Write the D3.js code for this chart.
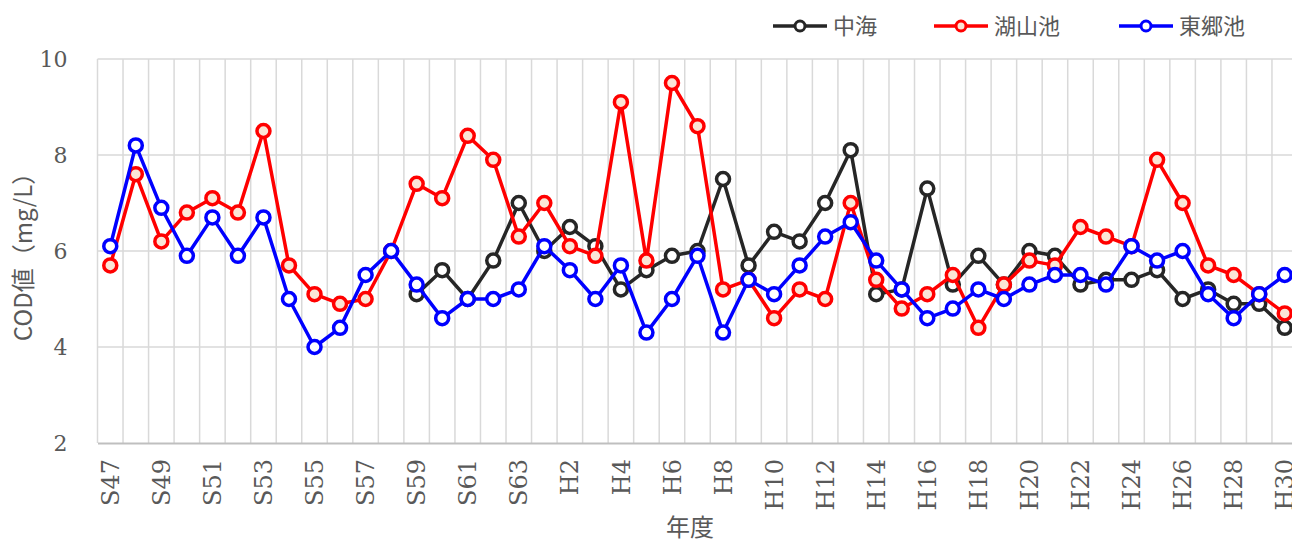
<!DOCTYPE html>
<html>
<head>
<meta charset="utf-8">
<script src="https://cdn.jsdelivr.net/npm/d3@7"></script>
<style>
  body { margin: 0; background: #fff; }
  svg { display: block; }
</style>
</head>
<body>
<svg id="chart" width="1292" height="542"></svg>
<script>
const years = [
  "S47", "S48", "S49", "S50", "S51", "S52", "S53", "S54", "S55", "S56", "S57", "S58",
  "S59", "S60", "S61", "S62", "S63",
  "H1", "H2", "H3", "H4", "H5", "H6", "H7", "H8", "H9", "H10", "H11", "H12", "H13", "H14",
  "H15", "H16", "H17", "H18", "H19", "H20", "H21", "H22", "H23", "H24", "H25", "H26",
  "H27", "H28", "H29", "H30"
];

// 中海 (no data before S59)
const nakaumi = [
  null, null, null, null, null, null, null, null, null, null, null, null,
  5.1, 5.6, 5.0, 5.8, 7.0,
  6.0, 6.5, 6.1, 5.2, 5.6, 5.9, 6.0, 7.5, 5.7, 6.4, 6.2, 7.0, 8.1, 5.1,
  5.2, 7.3, 5.3, 5.9, 5.3, 6.0, 5.9, 5.3, 5.4, 5.4, 5.6, 5.0,
  5.2, 4.9, 4.9, 4.4
];

// 湖山池
const koyamaike = [
  5.7, 7.6, 6.2, 6.8, 7.1, 6.8, 8.5, 5.7, 5.1, 4.9, 5.0, 6.0,
  7.4, 7.1, 8.4, 7.9, 6.3,
  7.0, 6.1, 5.9, 9.1, 5.8, 9.5, 8.6, 5.2, 5.4, 4.6, 5.2, 5.0, 7.0, 5.4,
  4.8, 5.1, 5.5, 4.4, 5.3, 5.8, 5.7, 6.5, 6.3, 6.1, 7.9, 7.0,
  5.7, 5.5, 5.1, 4.7
];

// 東郷池
const togoike = [
  6.1, 8.2, 6.9, 5.9, 6.7, 5.9, 6.7, 5.0, 4.0, 4.4, 5.5, 6.0,
  5.3, 4.6, 5.0, 5.0, 5.2,
  6.1, 5.6, 5.0, 5.7, 4.3, 5.0, 5.9, 4.3, 5.4, 5.1, 5.7, 6.3, 6.6, 5.8,
  5.2, 4.6, 4.8, 5.2, 5.0, 5.3, 5.5, 5.5, 5.3, 6.1, 5.8, 6.0,
  5.1, 4.6, 5.1, 5.5
];

const seriesNames = ["中海", "湖山池", "東郷池"];
const yTicks = [2, 4, 6, 8, 10];

const series = [
  { name: seriesNames[0], values: nakaumi, stroke: "#262626", fill: "#ffffff" },
  { name: seriesNames[1], values: koyamaike, stroke: "#ff0000", fill: "#fbe5d6" },
  { name: seriesNames[2], values: togoike, stroke: "#0000ff", fill: "#ffffff" }
];

const plot = { left: 97.5, right: 1297.5, top: 59, bottom: 443 };
const textColor = "#595959";
const gridColor = "#d9d9d9";
const serif = "'Century Schoolbook', 'DejaVu Serif', 'Liberation Serif', serif";
const sans = "'Noto Sans CJK JP', 'Noto Sans', sans-serif";

const svg = d3.select("#chart");

const x = d3.scaleBand()
  .domain(years)
  .range([plot.left, plot.right])
  .paddingInner(0)
  .paddingOuter(0);

const y = d3.scaleLinear()
  .domain([2, 10])
  .range([plot.bottom, plot.top]);

const cx = d => x(d) + x.bandwidth() / 2;

// グリッド線
const grid = svg.append("g");

grid.selectAll("line.v")
  .data(years)
  .enter()
  .append("line")
  .attr("class", "v")
  .attr("x1", d => x(d))
  .attr("x2", d => x(d))
  .attr("y1", plot.top)
  .attr("y2", plot.bottom)
  .attr("stroke", gridColor)
  .attr("stroke-width", 1.5);

grid.selectAll("line.h")
  .data(yTicks.filter(t => t > 2))
  .enter()
  .append("line")
  .attr("class", "h")
  .attr("x1", plot.left)
  .attr("x2", plot.right)
  .attr("y1", d => y(d))
  .attr("y2", d => y(d))
  .attr("stroke", gridColor)
  .attr("stroke-width", 1.5);

// X軸
const xAxis = svg.append("g")
  .attr("transform", `translate(0,${plot.bottom})`)
  .call(
    d3.axisBottom(x)
      .tickValues(years.filter((d, i) => i % 2 === 0))
      .tickSize(0)
  );

xAxis.select(".domain")
  .attr("stroke", "#bfbfbf")
  .attr("stroke-width", 2);

xAxis.selectAll("text")
  .attr("transform", "rotate(-90)")
  .attr("x", -16)
  .attr("y", 0)
  .attr("dy", "0.36em")
  .attr("text-anchor", "end")
  .attr("fill", textColor)
  .attr("font-family", serif)
  .attr("font-size", 24);

// Y軸
const yAxis = svg.append("g")
  .attr("transform", `translate(${plot.left},0)`)
  .call(d3.axisLeft(y).tickValues(yTicks).tickSize(0).tickPadding(30));

yAxis.select(".domain").remove();

yAxis.selectAll("text")
  .attr("fill", textColor)
  .attr("font-family", serif)
  .attr("font-size", 22);

// 軸タイトル
svg.append("text")
  .attr("transform", `translate(24,${(plot.top + plot.bottom) / 2}) rotate(-90)`)
  .attr("text-anchor", "middle")
  .attr("dy", "0.35em")
  .attr("fill", textColor)
  .attr("font-family", sans)
  .attr("font-size", 24)
  .text("COD値（mg/L）");

svg.append("text")
  .attr("x", 690)
  .attr("y", 528)
  .attr("text-anchor", "middle")
  .attr("dy", "0.35em")
  .attr("fill", textColor)
  .attr("font-family", sans)
  .attr("font-size", 24)
  .text("年度");

// 折れ線
const line = d3.line()
  .defined(d => d.v !== null)
  .x(d => cx(d.year))
  .y(d => y(d.v));

series.forEach(s => {
  const pts = years.map((year, i) => ({ year, v: s.values[i] }));

  const g = svg.append("g");

  g.append("path")
    .datum(pts)
    .attr("d", line)
    .attr("fill", "none")
    .attr("stroke", s.stroke)
    .attr("stroke-width", 3.5)
    .attr("stroke-linejoin", "round");

  g.selectAll("circle")
    .data(pts.filter(d => d.v !== null))
    .enter()
    .append("circle")
    .attr("cx", d => cx(d.year))
    .attr("cy", d => y(d.v))
    .attr("r", 6.5)
    .attr("fill", s.fill)
    .attr("stroke", s.stroke)
    .attr("stroke-width", 3.5);
});

// 凡例
const legendX = [773, 934, 1119];

const legend = svg.append("g")
  .selectAll("g")
  .data(series)
  .enter()
  .append("g")
  .attr("transform", (d, i) => `translate(${legendX[i]},26)`);

legend.append("line")
  .attr("x1", 0)
  .attr("x2", 54)
  .attr("stroke", d => d.stroke)
  .attr("stroke-width", 3.5);

legend.append("circle")
  .attr("cx", 27)
  .attr("r", 5)
  .attr("fill", d => d.fill)
  .attr("stroke", d => d.stroke)
  .attr("stroke-width", 3);

legend.append("text")
  .attr("x", 60)
  .attr("dy", "0.35em")
  .attr("fill", textColor)
  .attr("font-family", sans)
  .attr("font-size", 22)
  .text(d => d.name);
</script>
</body>
</html>
